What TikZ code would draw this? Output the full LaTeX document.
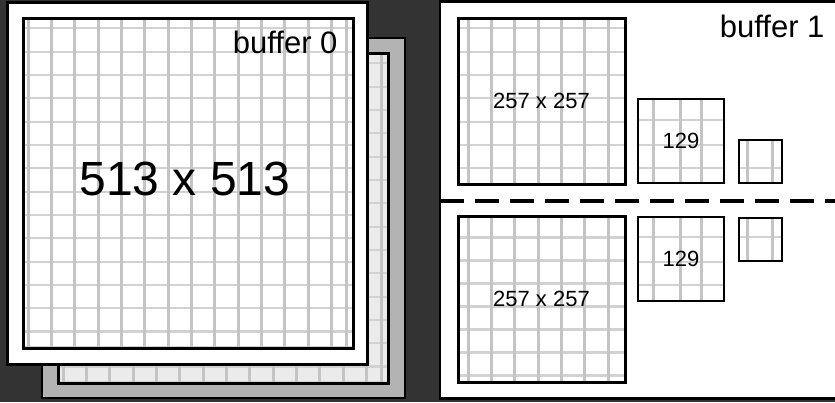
\documentclass[tikz,border=0pt]{standalone}
\usepackage{fontspec}
\setmainfont{Liberation Sans}
\usetikzlibrary{positioning}

\definecolor{bgdark}{HTML}{333333}
\definecolor{sheetgray}{HTML}{B3B3B3}
\definecolor{sheetlight}{HTML}{EBEBEB}
\definecolor{gridline}{HTML}{C4C4C4}
\definecolor{gridthin}{HTML}{D2D2D2}

% grid of one level: x0, y0, x1, y1, vertical positions, horizontal positions
\newcommand{\levelgrid}[6]{%
  \foreach \gy in {#6} \draw[hgrid] (#1,\gy) -- (#3,\gy);
  \foreach \gx in {#5} \draw[vgrid] (\gx,#2) -- (\gx,#4);
}

\tikzset{
  vgrid/.style={draw=gridline, line width=3pt},
  hgrid/.style={draw=gridthin, line width=2.2pt},
  panel/.style={fill=white, draw=black, line width=2.5pt},
  dimtxt/.style={font=\fontsize{22}{22}\selectfont},
  level/.style={draw=black, line width=3pt, inner sep=0pt, dimtxt},
  sublevel/.style={level, line width=2.5pt},
  tinylevel/.style={level, line width=2pt},
  bigtxt/.style={font=\fontsize{48}{48}\selectfont},
  tagtxt/.style={font=\fontsize{31}{31}\selectfont},
  divider/.style={draw=black, line width=3.5pt, dash pattern=on 24pt off 11pt},
}

\begin{document}
\begin{tikzpicture}[x=1pt, y=-1pt]
\useasboundingbox (0,0) rectangle (835,402);
\clip (0,0) rectangle (835,402);
\fill[bgdark] (0,0) rectangle (835,402);

% buffer 0: sheets stacked behind
\draw[fill=sheetgray, draw=black, line width=2.5pt] (42,38) rectangle (405,398);
\fill[sheetlight] (58,53) rectangle (388,383);
\levelgrid{58}{53}{388}{383}{63.3,86.63,...,367,381.7}{63.3,86.63,...,367,381.7}
\node[level, minimum width=330pt, minimum height=330pt] (back0) at (223,218) {};

% buffer 0: front sheet
\draw[panel, line width=3pt] (7,2) rectangle (367,364);
\levelgrid{23}{18}{353}{348}{28.3,51.63,...,332,346.7}{28.3,51.63,...,332,346.7}
\node[level, minimum width=330pt, minimum height=330pt] (buf0) at (188,183) {};
\node[bigtxt] (lbl513) at (185,178.5) {513 x 513};
\node[tagtxt, anchor=base east] (tag0) at (341,53) {buffer 0};

% buffer 1
\draw[panel] (440,1.5) rectangle (845,398.5);
\coordinate (divL) at (440,201);
\coordinate (divR) at (835,201);
\draw[divider] (divL) -- (divR);
\node[tagtxt, anchor=base east] (tag1) at (828,37) {buffer 1};

% upper row of levels
\levelgrid{458}{18}{625}{184}{468.3,491.63,...,609}{28.3,51.63,...,169}
\node[level, minimum width=167pt, minimum height=166pt] (up257) at (541.5,101) {257 x 257};
\levelgrid{638}{100}{724}{184}{653,680,701}{120,145,168}
\node[sublevel, minimum width=86pt, minimum height=84pt] (up129) at (681,141) {129};
\levelgrid{739}{140}{782}{183}{747,772}{168}
\node[tinylevel, minimum width=43pt, minimum height=43pt] (up65) at (760.5,161.5) {};

% lower row of levels
\levelgrid{458}{218}{625}{384}{468.3,491.63,...,609}{237.5,260.5,...,376}
\node[level, minimum width=167pt, minimum height=166pt] (lo257) at (541.5,299) {257 x 257};
\levelgrid{638}{218}{724}{302}{653,680,701}{237,262,285}
\node[sublevel, minimum width=86pt, minimum height=84pt] (lo129) at (681,259) {129};
\levelgrid{739}{218}{782}{261}{747,772}{237}
\node[tinylevel, minimum width=43pt, minimum height=43pt] (lo65) at (760.5,239.5) {};
\end{tikzpicture}
\end{document}
